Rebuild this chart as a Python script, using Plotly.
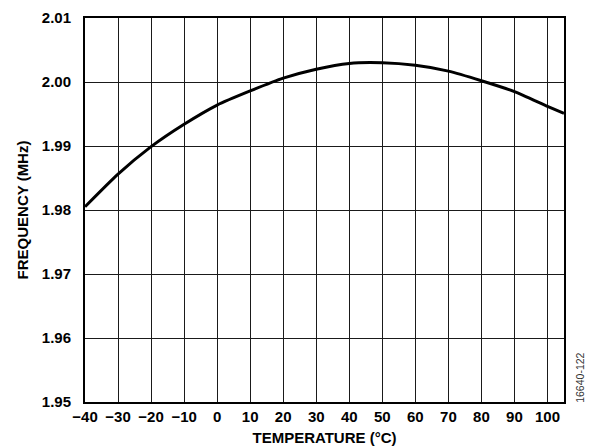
import plotly.graph_objects as go

# === DATA ===
temperature = [-40, -30, -20, -10, 0, 10, 20, 30, 40, 50, 60, 70, 80, 90, 100, 105]
frequency = [1.9805, 1.9856, 1.9899, 1.9934, 1.9964, 1.9986, 2.0006, 2.0020,
             2.0029, 2.0030, 2.0026, 2.0017, 2.0002, 1.9985, 1.9962, 1.9951]

x_ticks = list(range(-40, 101, 10))
x_ticktext = [str(v).replace('-', '\u2212') for v in x_ticks]
y_ticks = [1.95, 1.96, 1.97, 1.98, 1.99, 2.00, 2.01]
y_ticktext = ['%.2f' % v for v in y_ticks]

font_family = 'Liberation Sans, Arial, sans-serif'
bold_font = dict(family=font_family, size=15, color='black', weight='bold')

fig = go.Figure()

fig.add_trace(go.Scatter(
    x=temperature, y=frequency,
    mode='lines',
    line=dict(color='black', width=3, shape='spline', smoothing=0.6),
    showlegend=False
))

axis_common = dict(
    showgrid=True, gridcolor='#1a1a1a', gridwidth=1.2,
    showline=True, linecolor='black', linewidth=2, mirror=True,
    zeroline=False, ticks='', automargin=False,
    tickfont=bold_font,
)

fig.update_xaxes(
    range=[-40, 105], tickvals=x_ticks, ticktext=x_ticktext,
    title=dict(text='TEMPERATURE (°C)', standoff=8, font=bold_font),
    **axis_common
)
fig.update_yaxes(
    range=[1.95, 2.01], tickvals=y_ticks, ticktext=y_ticktext,
    ticklabelstandoff=9,
    title=dict(text='FREQUENCY (MHz)', standoff=10, font=bold_font),
    **axis_common
)

# figure id label at right edge
fig.add_annotation(
    text='16640-122', xref='paper', yref='paper', x=1.033, y=0.0625,
    textangle=-90, showarrow=False, xanchor='center', yanchor='middle',
    font=dict(family=font_family, size=10.5, color='#333333')
)

# page body adds ~8px offset, so margins are shifted to compensate
fig.update_layout(
    width=595, height=448,
    margin=dict(l=77, r=39, t=10, b=54),
    plot_bgcolor='white', paper_bgcolor='white',
    font=dict(family=font_family)
)

fig.write_html("out.html")
